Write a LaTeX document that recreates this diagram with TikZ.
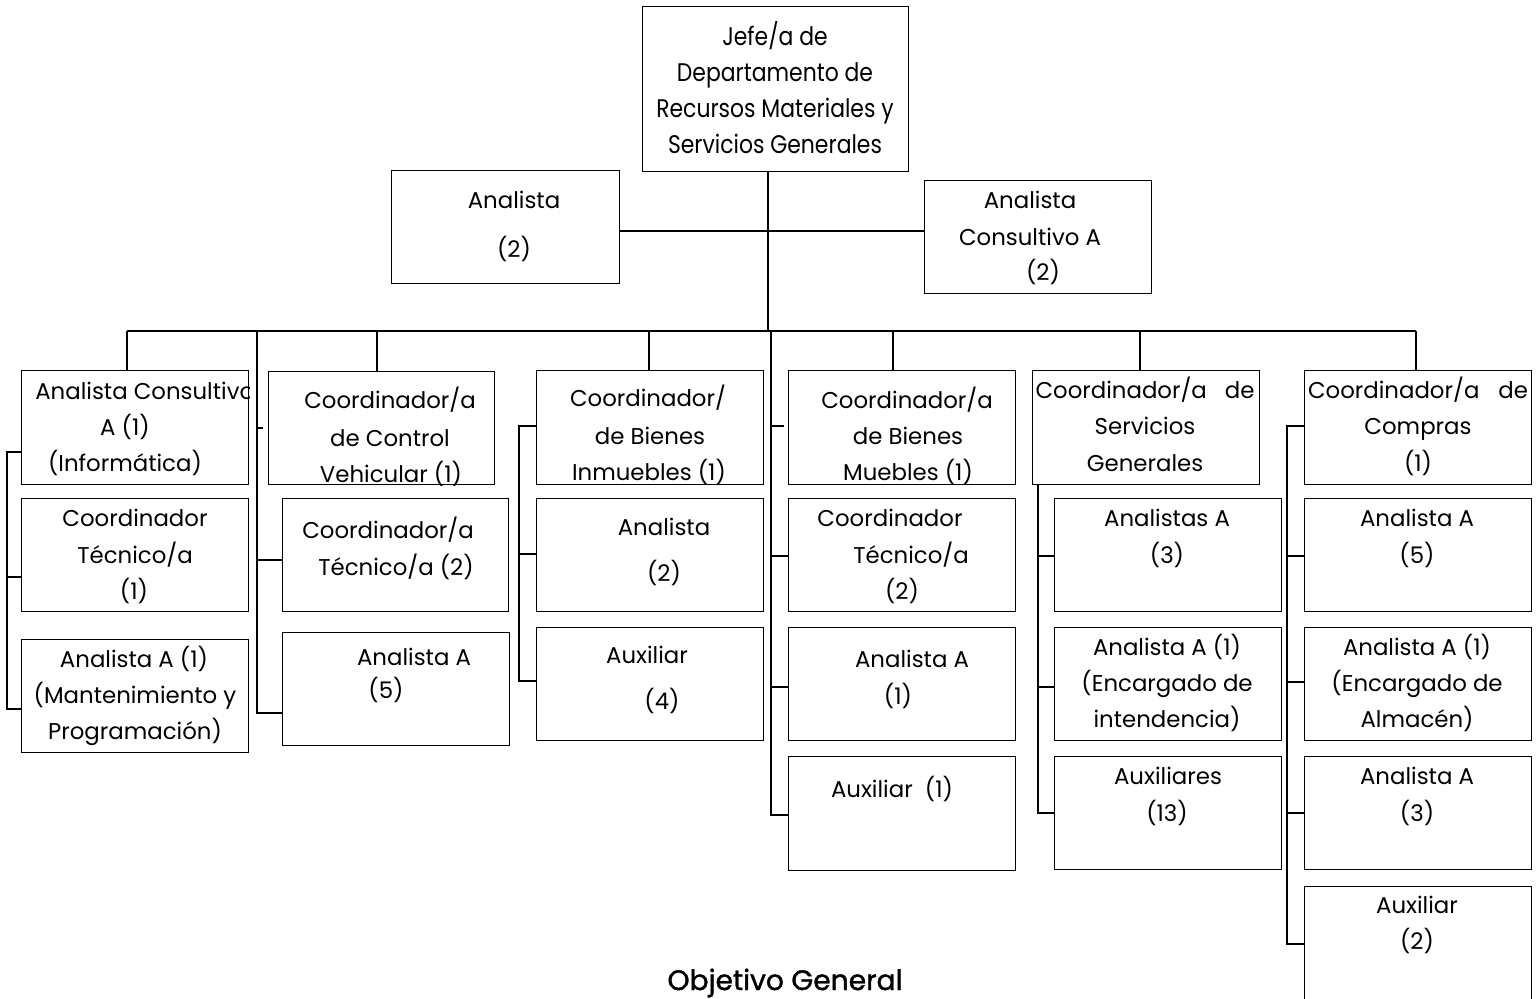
\documentclass[tikz,border=0pt]{standalone}
\usepackage{fontspec}
\setmainfont{Poppins}
\newfontfamily\condfont[FakeStretch=0.86]{Poppins}
\newfontfamily\objfont[FakeBold=1.3]{Poppins}
\tikzset{
  obx/.style={draw=black, line width=0.8pt, inner sep=0pt, rectangle},
  otxt/.style={anchor=base, inner sep=0pt, font=\fontsize{13}{16}\selectfont},
  ctxt/.style={anchor=base, inner sep=0pt, font=\condfont\fontsize{14.5}{17}\selectfont},
  conn/.style={draw=black, line width=0.8pt},
}
\newcommand\obox[5]{\node[obx, minimum width={(#4-#2)*0.02cm}, minimum height={(#5-#3)*0.02cm}, anchor=north west] (#1) at (#2,#3) {};}
\newcommand\otx[4]{\node[otxt] (#1) at (#2,#3+8) {#4};}
\newcommand\ctx[4]{\node[ctxt] (#1) at (#2,#3+9) {#4};}
\begin{document}
\begin{tikzpicture}[x=0.02cm,y=-0.02cm]
\useasboundingbox (0,0) rectangle (1540,998);
% boxes
\obox{jefe}{642}{6}{908}{171}
\obox{an}{391}{170}{619}{283}
\obox{acA}{924}{180}{1151}{293}
\obox{c1a}{21}{370}{248}{484}
\obox{c1b}{21}{498}{248}{611}
\obox{c1c}{21}{639}{248}{752}
\obox{c2a}{268}{371}{494}{484}
\obox{c2b}{282}{498}{508}{611}
\obox{c2c}{282}{632}{509}{745}
\obox{c3a}{536}{370}{763}{484}
\obox{c3b}{536}{498}{763}{611}
\obox{c3c}{536}{627}{763}{740}
\obox{c4a}{788}{370}{1015}{484}
\obox{c4b}{788}{498}{1015}{611}
\obox{c4c}{788}{627}{1015}{740}
\obox{c4d}{788}{756}{1015}{870}
\obox{c5a}{1032}{370}{1259}{484}
\obox{c5b}{1054}{498}{1281}{611}
\obox{c5c}{1054}{627}{1281}{740}
\obox{c5d}{1054}{756}{1281}{869}
\obox{c6a}{1304}{370}{1531}{484}
\obox{c6b}{1304}{498}{1531}{611}
\obox{c6c}{1304}{627}{1531}{740}
\obox{c6d}{1304}{756}{1531}{869}
\obox{c6e}{1304}{886}{1531}{1002}
% texts
\ctx{t0a}{775}{36}{Jefe/a de}
\ctx{t0b}{775}{72}{Departamento de}
\ctx{t0c}{775}{108}{Recursos Materiales y}
\ctx{t0d}{775}{144}{Servicios Generales}
\otx{tana}{514}{200}{Analista}
\otx{tanb}{514}{249}{(2)}
\otx{taca}{1030}{200}{Analista}
\otx{tacb}{1030}{237}{Consultivo A}
\otx{tacc}{1043}{272}{(2)}
\begin{scope}
\clip (c1a.south west) rectangle (c1a.north east);
\node[otxt, anchor=base west] (t1a1) at (35,399) {Analista Consultivo};
\end{scope}
\otx{t1a2}{125}{427}{A (1)}
\otx{t1a3}{125}{463}{(Informática)}
\otx{t1b1}{135}{518}{Coordinador}
\otx{t1b2}{135}{555}{Técnico/a}
\otx{t1b3}{134}{591}{(1)}
\otx{t1c1}{134}{659}{Analista A (1)}
\otx{t1c2}{135}{695}{(Mantenimiento y}
\otx{t1c3}{135}{731}{Programación)}
\begin{scope}
\clip (c2a.south west) rectangle (c2a.north east);
\otx{t2a1}{390}{400}{Coordinador/a}
\otx{t2a2}{390}{438}{de Control}
\otx{t2a3}{391}{474}{Vehicular (1)}
\end{scope}
\otx{t2b1}{388}{530}{Coordinador/a}
\otx{t2b2}{396}{567}{Técnico/a (2)}
\otx{t2c1}{414}{657}{Analista A}
\otx{t2c2}{386}{690}{(5)}
\begin{scope}
\clip (c3a.south west) rectangle (c3a.north east);
\otx{t3a1}{648}{398}{Coordinador/}
\otx{t3a2}{650}{436}{de Bienes}
\otx{t3a3}{649}{472}{Inmuebles (1)}
\end{scope}
\otx{t3b1}{664}{527}{Analista}
\otx{t3b2}{664}{573}{(2)}
\otx{t3c1}{647}{655}{Auxiliar}
\otx{t3c2}{662}{701}{(4)}
\begin{scope}
\clip (c4a.south west) rectangle (c4a.north east);
\otx{t4a1}{907}{400}{Coordinador/a}
\otx{t4a2}{908}{436}{de Bienes}
\otx{t4a3}{908}{472}{Muebles (1)}
\end{scope}
\otx{t4b1}{890}{518}{Coordinador}
\otx{t4b2}{911}{555}{Técnico/a}
\otx{t4b3}{902}{591}{(2)}
\otx{t4c1}{912}{659}{Analista A}
\otx{t4c2}{898}{696}{(1)}
\otx{t4d1}{892}{789}{Auxiliar\ \ (1)}
\otx{t5a1}{1145}{390}{\makebox[4.38cm]{Coordinador/a\hfill de}}
\otx{t5a2}{1145}{426}{Servicios}
\otx{t5a3}{1145}{463}{Generales}
\otx{t5b1}{1167}{518}{Analistas A}
\otx{t5b2}{1167}{555}{(3)}
\otx{t5c1}{1167}{647}{Analista A (1)}
\otx{t5c2}{1167}{683}{(Encargado de}
\otx{t5c3}{1167}{719}{intendencia)}
\otx{t5d1}{1168}{776}{Auxiliares}
\otx{t5d2}{1167}{813}{(13)}
\otx{t6a1}{1418}{390}{\makebox[4.4cm]{Coordinador/a\hfill de}}
\otx{t6a2}{1418}{426}{Compras}
\otx{t6a3}{1418}{463}{(1)}
\otx{t6b1}{1417}{518}{Analista A}
\otx{t6b2}{1417}{555}{(5)}
\otx{t6c1}{1417}{647}{Analista A (1)}
\otx{t6c2}{1417}{683}{(Encargado de}
\otx{t6c3}{1417}{719}{Almacén)}
\otx{t6d1}{1417}{776}{Analista A}
\otx{t6d2}{1417}{813}{(3)}
\otx{t6e1}{1417}{905}{Auxiliar}
\otx{t6e2}{1417}{941}{(2)}
\node[anchor=base, inner sep=0pt, font=\objfont\fontsize{16}{19}\selectfont] (obj) at (785,990) {Objetivo General};
% connectors: top
\coordinate (bar) at (768,331);
\coordinate (j1) at (768,231);
\draw[conn] (jefe.south -| bar) -- (bar);
\draw[conn] (an.east|-j1) -- (j1) -- (acA.west|-j1);
\coordinate (d1) at (127,331);
\coordinate (d2) at (377,331);
\coordinate (d3) at (649,331);
\coordinate (d4) at (893,331);
\coordinate (d5) at (1140,331);
\coordinate (d6) at (1416,331);
\draw[conn] (d1) -- (d6);
\draw[conn] (d1) -- (d1|-c1a.north);
\draw[conn] (d2) -- (d2|-c2a.north);
\draw[conn] (d3) -- (d3|-c3a.north);
\draw[conn] (d4) -- (d4|-c4a.north);
\draw[conn] (d5) -- (d5|-c5a.north);
\draw[conn] (d6) -- (d6|-c6a.north);
% column 1 bracket
\coordinate (k1t) at (7,452);
\coordinate (k1m) at (7,577);
\coordinate (k1b) at (7,709);
\draw[conn] (c1a.west|-k1t) -- (k1t) -- (k1b) -- (c1c.west|-k1b);
\draw[conn] (k1m) -- (c1b.west|-k1m);
% column 2
\coordinate (v2t) at (257,331);
\coordinate (v2a) at (257,428);
\coordinate (v2s) at (263,428);
\coordinate (v2m) at (257,560);
\coordinate (v2b) at (257,713);
\draw[conn] (v2t) -- (v2b) -- (c2c.west|-v2b);
\draw[conn] (v2a) -- (v2s);
\draw[conn] (v2m) -- (c2b.west|-v2m);
% column 3 bracket
\coordinate (k3t) at (519,426);
\coordinate (k3m) at (519,554);
\coordinate (k3b) at (519,681);
\draw[conn] (c3a.west|-k3t) -- (k3t) -- (k3b) -- (c3c.west|-k3b);
\draw[conn] (k3m) -- (c3b.west|-k3m);
% column 4
\coordinate (v4t) at (771,331);
\coordinate (v4a) at (771,426);
\coordinate (v4s) at (784,426);
\coordinate (v4m) at (771,556);
\coordinate (v4n) at (771,687);
\coordinate (v4b) at (771,815);
\draw[conn] (v4t) -- (v4b) -- (c4d.west|-v4b);
\draw[conn] (v4a) -- (v4s);
\draw[conn] (v4m) -- (c4b.west|-v4m);
\draw[conn] (v4n) -- (c4c.west|-v4n);
% column 5
\coordinate (v5t) at (1038,484);
\coordinate (v5m) at (1038,556);
\coordinate (v5n) at (1038,687);
\coordinate (v5b) at (1038,813);
\draw[conn] (v5t) -- (v5b) -- (c5d.west|-v5b);
\draw[conn] (v5m) -- (c5b.west|-v5m);
\draw[conn] (v5n) -- (c5c.west|-v5n);
% column 6
\coordinate (v6t) at (1287,426);
\coordinate (v6m) at (1287,556);
\coordinate (v6n) at (1287,682);
\coordinate (v6o) at (1287,813);
\coordinate (v6b) at (1287,944);
\draw[conn] (c6a.west|-v6t) -- (v6t) -- (v6b) -- (c6e.west|-v6b);
\draw[conn] (v6m) -- (c6b.west|-v6m);
\draw[conn] (v6n) -- (c6c.west|-v6n);
\draw[conn] (v6o) -- (c6d.west|-v6o);
\end{tikzpicture}
\end{document}
